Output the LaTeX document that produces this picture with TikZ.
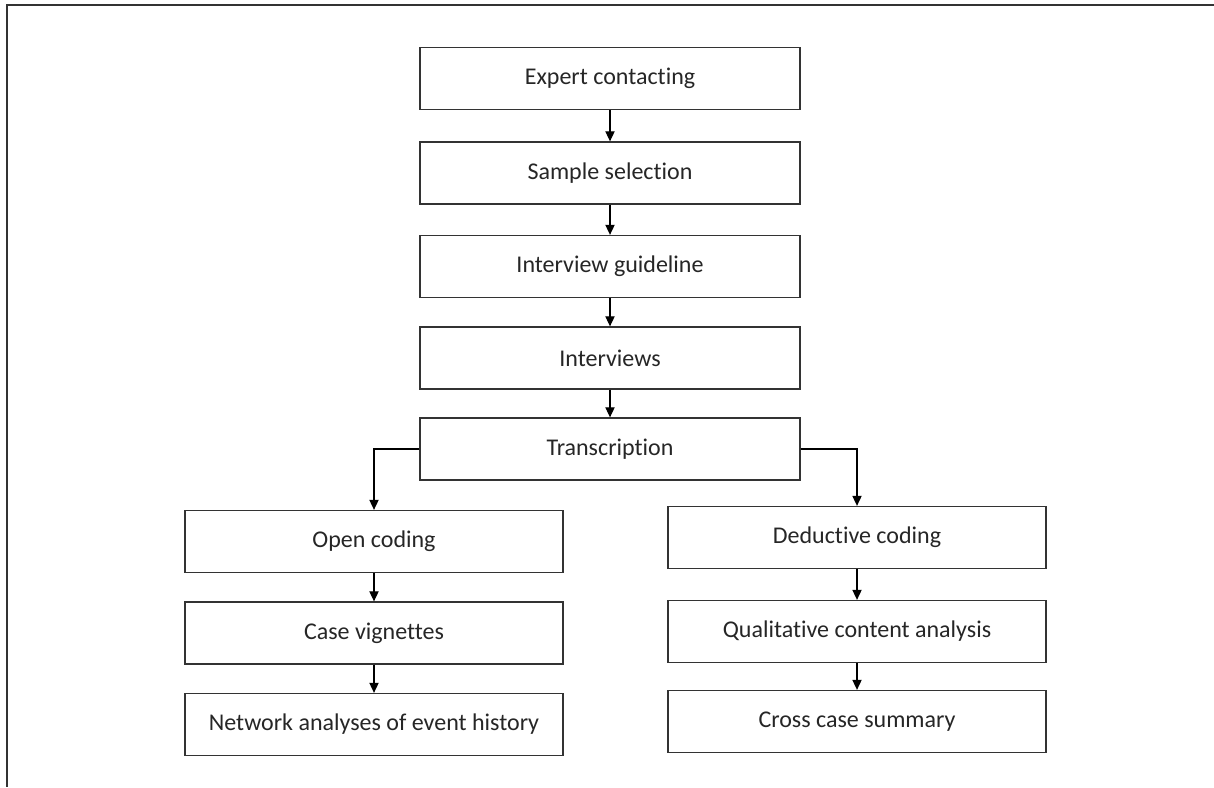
\documentclass[tikz,border=0pt]{standalone}
\usepackage{fontspec}
\setmainfont{Carlito}[Ligatures={NoCommon}]
\usetikzlibrary{arrows.meta}
\definecolor{ink}{HTML}{262626}
\definecolor{edge}{HTML}{333333}
\begin{document}
\begin{tikzpicture}[x=0.5pt,y=-0.5pt,
  stepbox/.style={draw=edge,line width=0.65pt,fill=white,inner sep=0pt,
    minimum height=31pt,text=ink,font=\fontsize{12}{14}\selectfont},
  wide/.style={stepbox,minimum width=190pt},
  side/.style={stepbox,minimum width=189pt},
  flow/.style={draw=black,line width=0.6pt,-{Triangle[width=4.6pt,length=5pt]}}]
\useasboundingbox (0,0) rectangle (1214,787);
% frame lines along the top and the left edge
\draw[edge,line width=1pt] (7,4.5) -- (1214,4.5);
\draw[edge,line width=1pt] (7,4) -- (7,787);
% main column
\node[wide] (expert) at (610,78.5) {Expert contacting};
\node[wide] (sample) at (610,173) {Sample selection};
\node[wide] (guide)  at (610,266.5) {Interview guideline};
\node[wide] (interv) at (610,358) {Interviews};
\node[wide] (trans)  at (610,449) {Transcription};
% left branch
\node[side] (open) at (374,541.5) {Open coding};
\node[side] (case) at (374,633) {Case vignettes};
\node[side] (net)  at (374,724.5) {Network analyses of event history};
% right branch
\node[side] (ded)  at (857,537.5) {Deductive coding};
\node[side] (qual) at (857,631.5) {Qualitative content analysis};
\node[side] (cross) at (857,721.5) {Cross case summary};
% connectors
\draw[flow] (expert) -- (sample);
\draw[flow] (sample) -- (guide);
\draw[flow] (guide) -- (interv);
\draw[flow] (interv) -- (trans);
\draw[flow] (trans.west) -| (open.north);
\draw[flow] (trans.east) -| (ded.north);
\draw[flow] (open) -- (case);
\draw[flow] (case) -- (net);
\draw[flow] (ded) -- (qual);
\draw[flow] (qual) -- (cross);
\end{tikzpicture}
\end{document}
